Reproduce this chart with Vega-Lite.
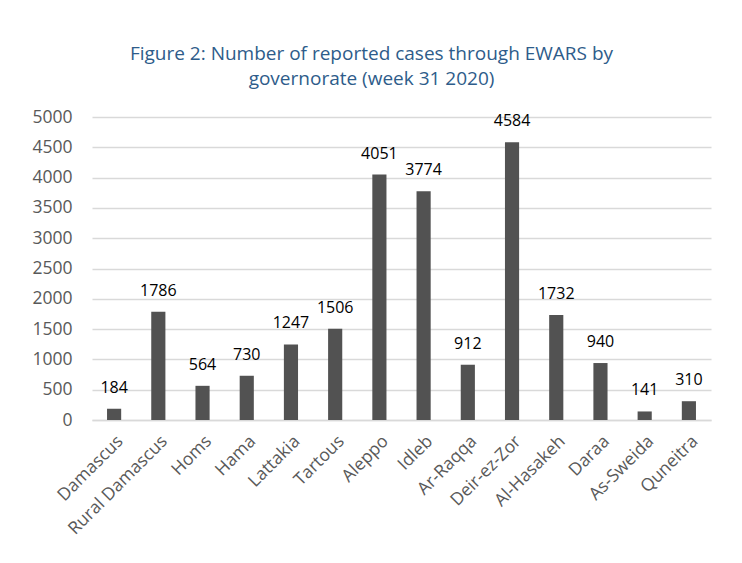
{
  "$schema": "https://vega.github.io/schema/vega-lite/v6.json",
  "width": 619,
  "height": 303,
  "autosize": "none",
  "padding": {"left": 92, "top": 117, "right": 31, "bottom": 143},
  "background": "white",
  "title": {
    "text": ["Figure 2: Number of reported cases through EWARS by", "governorate (week 31 2020)"],
    "color": "#2E5C8A",
    "font": "Open Sans",
    "fontSize": 19,
    "fontWeight": "normal",
    "lineHeight": 25,
    "anchor": "middle",
    "dx": -30,
    "offset": 19
  },
  "data": {
    "values": [
      {"governorate": "Damascus", "cases": 184},
      {"governorate": "Rural Damascus", "cases": 1786},
      {"governorate": "Homs", "cases": 564},
      {"governorate": "Hama", "cases": 730},
      {"governorate": "Lattakia", "cases": 1247},
      {"governorate": "Tartous", "cases": 1506},
      {"governorate": "Aleppo", "cases": 4051},
      {"governorate": "Idleb", "cases": 3774},
      {"governorate": "Ar-Raqqa", "cases": 912},
      {"governorate": "Deir-ez-Zor", "cases": 4584},
      {"governorate": "Al-Hasakeh", "cases": 1732},
      {"governorate": "Daraa", "cases": 940},
      {"governorate": "As-Sweida", "cases": 141},
      {"governorate": "Quneitra", "cases": 310}
    ]
  },
  "encoding": {
    "x": {
      "field": "governorate",
      "type": "nominal",
      "sort": null,
      "scale": {"paddingInner": 0.68, "paddingOuter": 0.34},
      "axis": {
        "title": null,
        "labelAngle": -45,
        "labelFont": "Open Sans",
        "labelFontSize": 17.5,
        "labelColor": "#595959",
        "labelPadding": 12,
        "ticks": false,
        "domainColor": "#D9D9D9",
        "domainWidth": 1.5
      }
    },
    "y": {
      "field": "cases",
      "type": "quantitative",
      "scale": {"domain": [0, 5000], "nice": false},
      "axis": {
        "title": null,
        "format": "d",
        "values": [0, 500, 1000, 1500, 2000, 2500, 3000, 3500, 4000, 4500, 5000],
        "labelFont": "Open Sans",
        "labelFontSize": 17.5,
        "labelColor": "#595959",
        "labelPadding": 20,
        "ticks": false,
        "domain": false,
        "gridColor": "#D9D9D9",
        "gridWidth": 1.5
      }
    }
  },
  "layer": [
    {"mark": {"type": "bar", "color": "#525252"}},
    {
      "mark": {"type": "text", "baseline": "alphabetic", "dy": -16, "font": "Open Sans", "fontSize": 16, "color": "#000000"},
      "encoding": {"text": {"field": "cases", "type": "quantitative"}}
    }
  ],
  "config": {"view": {"stroke": null}}
}
